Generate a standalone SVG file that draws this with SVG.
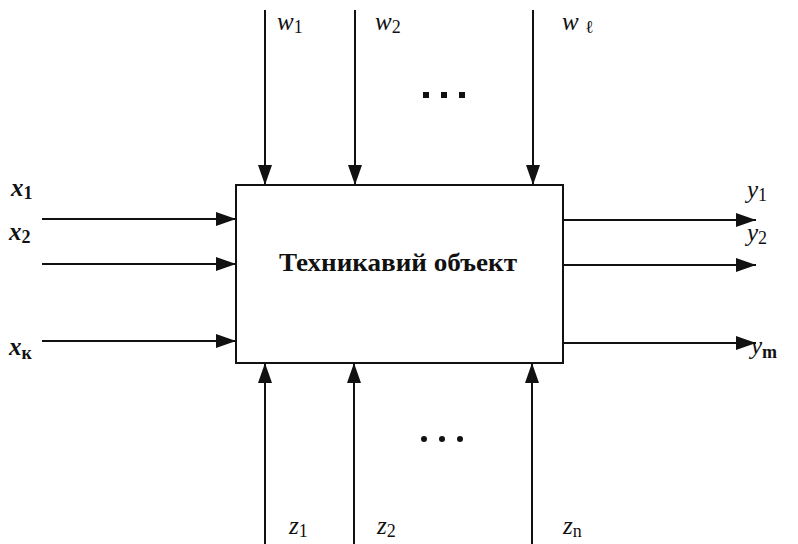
<svg xmlns="http://www.w3.org/2000/svg" width="798" height="544" viewBox="0 0 798 544">
<style>
.ln{stroke:#111;stroke-width:2;fill:none}
.lb{font-family:"Liberation Serif",serif;font-style:italic;font-size:25px;fill:#111}
.sb{font-style:normal;font-size:18px}
.dot{fill:#111}
</style>
<defs>
<marker id="ah" viewBox="0 0 20 14" refX="20" refY="7" markerWidth="20" markerHeight="14" markerUnits="userSpaceOnUse" orient="auto">
<path d="M0,0 L20,7 L0,14 Z" fill="#111"/>
</marker>
</defs>
<rect width="798" height="544" fill="#fff"/>
<g id="node-object">
<rect x="236" y="185" width="327" height="178" class="ln"/>
<text x="398" y="271" text-anchor="middle" font-family="Liberation Serif,serif" font-weight="bold" font-size="25" textLength="238" lengthAdjust="spacingAndGlyphs" fill="#111">Техникавий объект</text>
</g>
<g id="connectors">
<line x1="42" y1="219" x2="236" y2="219" class="ln" marker-end="url(#ah)"/>
<line x1="42" y1="264" x2="236" y2="264" class="ln" marker-end="url(#ah)"/>
<line x1="42" y1="341" x2="236" y2="341" class="ln" marker-end="url(#ah)"/>
<line x1="563" y1="220" x2="756" y2="220" class="ln" marker-end="url(#ah)"/>
<line x1="563" y1="265" x2="756" y2="265" class="ln" marker-end="url(#ah)"/>
<line x1="563" y1="343" x2="756" y2="343" class="ln" marker-end="url(#ah)"/>
<line x1="265" y1="10" x2="265" y2="185" class="ln" marker-end="url(#ah)"/>
<line x1="355" y1="10" x2="355" y2="185" class="ln" marker-end="url(#ah)"/>
<line x1="533" y1="10" x2="533" y2="185" class="ln" marker-end="url(#ah)"/>
<line x1="265" y1="544" x2="265" y2="363" class="ln" marker-end="url(#ah)"/>
<line x1="354" y1="544" x2="354" y2="363" class="ln" marker-end="url(#ah)"/>
<line x1="532" y1="544" x2="532" y2="363" class="ln" marker-end="url(#ah)"/>
</g>
<g id="labels">
<text class="lb" x="11" y="196" font-weight="bold">x<tspan class="sb" dy="3">1</tspan></text>
<text class="lb" x="9" y="240" font-weight="bold">x<tspan class="sb" dy="3">2</tspan></text>
<text class="lb" x="9" y="355" font-weight="bold">x<tspan class="sb" dy="4" font-style="italic">к</tspan></text>
<text class="lb" x="747" y="198">y<tspan class="sb" dy="3">1</tspan></text>
<text class="lb" x="747" y="241">y<tspan class="sb" dy="3">2</tspan></text>
<text class="lb" x="751" y="354">y<tspan class="sb" dy="4" font-style="italic" font-weight="bold">m</tspan></text>
<text class="lb" x="277" y="30">w<tspan class="sb" dy="3">1</tspan></text>
<text class="lb" x="375" y="30">w<tspan class="sb" dy="3">2</tspan></text>
<text class="lb" x="562" y="30">w <tspan class="sb" dy="3" font-style="italic">ℓ</tspan></text>
<text class="lb" x="289" y="534">z<tspan class="sb" dy="3">1</tspan></text>
<text class="lb" x="377" y="534">z<tspan class="sb" dy="3">2</tspan></text>
<text class="lb" x="563" y="534">z<tspan class="sb" dy="3" font-style="italic">n</tspan></text>
</g>
<g id="ellipsis">
<rect class="dot" x="423" y="92" width="6" height="6"/>
<rect class="dot" x="441" y="92" width="6" height="6"/>
<rect class="dot" x="459" y="92" width="6" height="6"/>
<circle class="dot" cx="424" cy="439" r="3"/>
<circle class="dot" cx="442" cy="439" r="3"/>
<circle class="dot" cx="460" cy="439" r="3"/>
</g>
</svg>
